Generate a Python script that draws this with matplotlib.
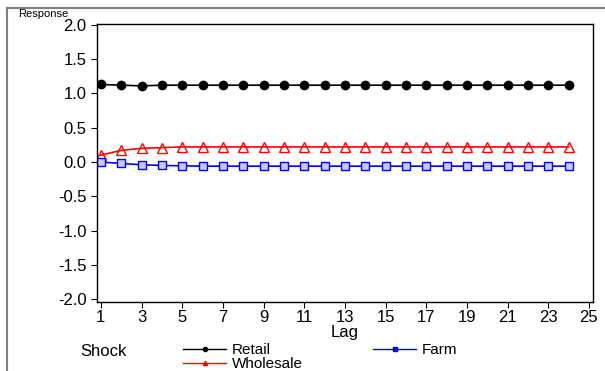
import matplotlib.pyplot as plt
from matplotlib.lines import Line2D

plt.rcParams['font.family'] = ['Liberation Sans', 'DejaVu Sans']

lags = list(range(1, 25))
retail = [1.13, 1.12, 1.11, 1.12, 1.12, 1.12, 1.12, 1.12, 1.12, 1.12, 1.12, 1.12,
          1.12, 1.12, 1.12, 1.12, 1.12, 1.12, 1.12, 1.12, 1.12, 1.12, 1.12, 1.12]
wholesale = [0.10, 0.17, 0.20, 0.21, 0.22, 0.22, 0.22, 0.22, 0.22, 0.22, 0.22, 0.22,
             0.22, 0.22, 0.22, 0.22, 0.22, 0.22, 0.22, 0.22, 0.22, 0.22, 0.22, 0.22]
farm = [0.00, -0.02, -0.04, -0.05, -0.055, -0.06, -0.06, -0.06, -0.06, -0.06, -0.06, -0.06,
        -0.06, -0.06, -0.06, -0.06, -0.06, -0.06, -0.06, -0.06, -0.06, -0.06, -0.06, -0.06]
xticks = list(range(1, 26, 2))
yticks = [-2.0, -1.5, -1.0, -0.5, 0.0, 0.5, 1.0, 1.5, 2.0]

fig = plt.figure(figsize=(6.05, 3.71), dpi=100)
ax = fig.add_axes([0.160, 0.186, 0.820, 0.749])

ax.plot(lags, retail, color='black', lw=1.2, marker='o', ms=6, mfc='black', mec='black')
ax.plot(lags, wholesale, color='red', lw=1.2, marker='^', ms=7, mfc='none', mec='red')
ax.plot(lags, farm, color='blue', lw=1.2, marker='s', ms=6, mfc='#c8c8ff', mec='blue')

ax.set_xlim(0.8, 25.2)
ax.set_ylim(-2.04, 2.01)
ax.set_xticks(xticks)
ax.set_yticks(yticks)
ax.set_yticklabels(['%.1f' % v for v in yticks])
ax.tick_params(labelsize=12, length=4, width=0.8)
ax.tick_params(axis='x', pad=2)
for s in ax.spines.values():
    s.set_linewidth(1.0)
ax.set_xlabel('Lag', fontsize=12, labelpad=0)

fig.text(0.030, 0.955, 'Response', fontsize=8)

# outer frame
fig.add_artist(Line2D([0.012, 1.0], [0.978, 0.978], color='#808080', lw=1.5))
fig.add_artist(Line2D([0.012, 0.012], [0.0, 0.978], color='#808080', lw=1.5))

fig.text(0.132, 0.040, 'Shock', fontsize=12)
handles = [
    Line2D([], [], color='black', lw=1, marker='o', ms=3, mfc='black'),
    Line2D([], [], color='red', lw=1, marker='^', ms=3, mfc='red', mec='red'),
    Line2D([], [], color='blue', lw=1, marker='s', ms=3, mfc='blue'),
]
fig.legend(handles, ['Retail', 'Wholesale', 'Farm'], ncol=2, frameon=False,
           loc='lower left', bbox_to_anchor=(0.285, -0.03), fontsize=11,
           handlelength=2.8, handletextpad=0.4, columnspacing=4.6,
           labelspacing=0.0, borderpad=0.2)

fig.savefig('out.png', dpi=100)
